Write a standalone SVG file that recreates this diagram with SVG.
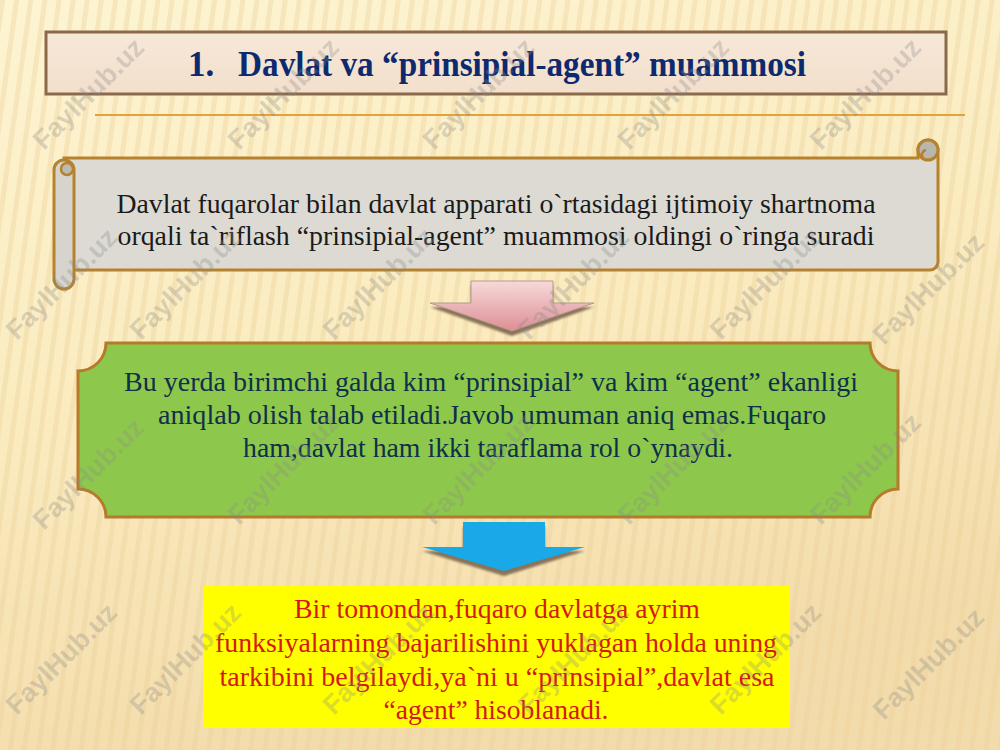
<svg xmlns="http://www.w3.org/2000/svg" width="1000" height="750" viewBox="0 0 1000 750">
  <defs>
    <linearGradient id="bg" x1="0" y1="0" x2="0.3" y2="1">
      <stop offset="0" stop-color="#fdf4d2"/>
      <stop offset="0.5" stop-color="#fbecc0"/>
      <stop offset="1" stop-color="#f3dcab"/>
    </linearGradient>
    <pattern id="grain" width="14" height="750" patternUnits="userSpaceOnUse" patternTransform="rotate(8)">
      <rect x="0" y="0" width="5" height="750" fill="#e9cf96" opacity="0.35"/>
    </pattern>
    <linearGradient id="pink" x1="0" y1="0" x2="0" y2="1">
      <stop offset="0" stop-color="#f7d9d9"/>
      <stop offset="1" stop-color="#dd8f95"/>
    </linearGradient>
    <linearGradient id="titlefill" x1="0" y1="0" x2="0" y2="1">
      <stop offset="0" stop-color="#f8e8d8"/>
      <stop offset="1" stop-color="#f2dfcc"/>
    </linearGradient>
    <filter id="soft" x="-10%" y="-10%" width="120%" height="130%">
      <feGaussianBlur stdDeviation="1.2"/>
    </filter>
    <style>
      .serif { font-family: "Liberation Serif", "Times New Roman", serif; }
      .title { font-size: 35px; font-weight: bold; fill: #0e2a6e; }
      .scrolltxt { font-size: 27px; fill: #1a1a1a; text-anchor: middle; }
      .greentxt { font-size: 27px; fill: #0f2f4a; text-anchor: middle; }
      .yeltxt { font-size: 28px; fill: #d41a14; text-anchor: middle; }
      .wm { font-family: "Liberation Sans", Arial, sans-serif; font-size: 27px; font-weight: bold; fill: #8a8a8a; opacity: 0.3; text-anchor: middle; }
      .shadow { fill: #8a7358; }
    </style>
  </defs>

  <g id="background">
    <rect x="0" y="0" width="1000" height="750" fill="url(#bg)"/>
    <rect x="0" y="0" width="1000" height="750" fill="url(#grain)"/>
    <line x1="95" y1="115" x2="965" y2="115" stroke="#e3a23c" stroke-width="2"/>
  </g>

  <g id="title">
    <rect x="46" y="32" width="900" height="62" fill="url(#titlefill)" stroke="#8b6a4c" stroke-width="3"/>
    <text class="serif title" x="188" y="76">1.</text>
    <text class="serif title" x="238" y="76" textLength="568" lengthAdjust="spacingAndGlyphs">Davlat va “prinsipial-agent” muammosi</text>
  </g>

  <g id="scroll">
    <path d="M64,158 L918,158 L918,150 A10,10 0 0 1 938,150 L938,262 A8,8 0 0 1 930,270 L64,270 Z" fill="#dcdad2" stroke="#b5822e" stroke-width="3"/>
    <path d="M54,170 A10,10 0 0 1 74,170 L74,279 A10,10 0 0 1 54,279 Z" fill="#d6d4cc" stroke="#b5822e" stroke-width="3"/>
    <circle cx="67" cy="169" r="6" fill="#bdbab2" stroke="#b5822e" stroke-width="2.5"/>
    <circle cx="928" cy="150" r="10" fill="#b9b6ae" stroke="#b5822e" stroke-width="3"/>
    <path d="M923,158 A5,5 0 0 1 926,150" fill="none" stroke="#b5822e" stroke-width="2.5"/>
    <text class="serif scrolltxt" x="496" y="213" textLength="759" lengthAdjust="spacingAndGlyphs">Davlat fuqarolar bilan davlat apparati o`rtasidagi ijtimoiy shartnoma</text>
    <text class="serif scrolltxt" x="496" y="245" textLength="757" lengthAdjust="spacingAndGlyphs">orqali ta`riflash “prinsipial-agent” muammosi oldingi o`ringa suradi</text>
  </g>

  <g id="connectors">
    <g id="arrow1">
      <path class="shadow" filter="url(#soft)" d="M471,285 H553 V307 H594 L512,336 L430,307 H471 Z"/>
      <path d="M471,281 H553 V303 H594 L512,331 L430,303 H471 Z" fill="url(#pink)" stroke="#b59a8c" stroke-width="1"/>
    </g>
    <g id="arrow2">
      <path class="shadow" filter="url(#soft)" d="M463,527 H545 V551 H585 L504,576 L422,551 H463 Z"/>
      <path d="M463,522 H545 V547 H585 L504,571 L422,547 H463 Z" fill="#19a9e8"/>
    </g>
  </g>

  <g id="green">
    <path d="M106,343 H870 A28,28 0 0 0 898,371 V489 A28,28 0 0 0 870,517 H106 A28,28 0 0 0 78,489 V371 A28,28 0 0 0 106,343 Z" fill="#8dc84c" stroke="#b57a2a" stroke-width="3"/>
    <text class="serif greentxt" x="491" y="391" textLength="734" lengthAdjust="spacingAndGlyphs">Bu yerda birimchi galda kim “prinsipial” va kim “agent” ekanligi</text>
    <text class="serif greentxt" x="492" y="424" textLength="668" lengthAdjust="spacingAndGlyphs">aniqlab olish talab etiladi.Javob umuman aniq emas.Fuqaro</text>
    <text class="serif greentxt" x="488" y="457" textLength="490" lengthAdjust="spacingAndGlyphs">ham,davlat ham ikki taraflama rol o`ynaydi.</text>
  </g>

  <g id="yellow">
    <rect x="203" y="586" width="587" height="142" fill="#ffff00"/>
    <text class="serif yeltxt" x="497" y="618" textLength="406" lengthAdjust="spacingAndGlyphs">Bir tomondan,fuqaro davlatga ayrim</text>
    <text class="serif yeltxt" x="496" y="652" textLength="562" lengthAdjust="spacingAndGlyphs">funksiyalarning bajarilishini yuklagan holda uning</text>
    <text class="serif yeltxt" x="497" y="686" textLength="555" lengthAdjust="spacingAndGlyphs">tarkibini belgilaydi,ya`ni u “prinsipial”,davlat esa</text>
    <text class="serif yeltxt" x="496" y="719" textLength="225" lengthAdjust="spacingAndGlyphs">“agent” hisoblanadi.</text>
  </g>

  <g id="watermarks">
    <text class="wm" transform="translate(95,100) rotate(-45)">FaylHub.uz</text>
    <text class="wm" transform="translate(290,100) rotate(-45)">FaylHub.uz</text>
    <text class="wm" transform="translate(485,100) rotate(-45)">FaylHub.uz</text>
    <text class="wm" transform="translate(680,100) rotate(-45)">FaylHub.uz</text>
    <text class="wm" transform="translate(872,100) rotate(-45)">FaylHub.uz</text>
    <text class="wm" transform="translate(68,290) rotate(-45)">FaylHub.uz</text>
    <text class="wm" transform="translate(192,290) rotate(-45)">FaylHub.uz</text>
    <text class="wm" transform="translate(385,290) rotate(-45)">FaylHub.uz</text>
    <text class="wm" transform="translate(580,290) rotate(-45)">FaylHub.uz</text>
    <text class="wm" transform="translate(772,290) rotate(-45)">FaylHub.uz</text>
    <text class="wm" transform="translate(935,295) rotate(-45)">FaylHub.uz</text>
    <text class="wm" transform="translate(95,480) rotate(-45)">FaylHub.uz</text>
    <text class="wm" transform="translate(290,475) rotate(-45)">FaylHub.uz</text>
    <text class="wm" transform="translate(485,475) rotate(-45)">FaylHub.uz</text>
    <text class="wm" transform="translate(680,475) rotate(-45)">FaylHub.uz</text>
    <text class="wm" transform="translate(872,475) rotate(-45)">FaylHub.uz</text>
    <text class="wm" transform="translate(68,665) rotate(-45)">FaylHub.uz</text>
    <text class="wm" transform="translate(192,665) rotate(-45)">FaylHub.uz</text>
    <text class="wm" transform="translate(385,665) rotate(-45)">FaylHub.uz</text>
    <text class="wm" transform="translate(580,665) rotate(-45)">FaylHub.uz</text>
    <text class="wm" transform="translate(772,665) rotate(-45)">FaylHub.uz</text>
    <text class="wm" transform="translate(935,670) rotate(-45)">FaylHub.uz</text>
  </g>
</svg>
